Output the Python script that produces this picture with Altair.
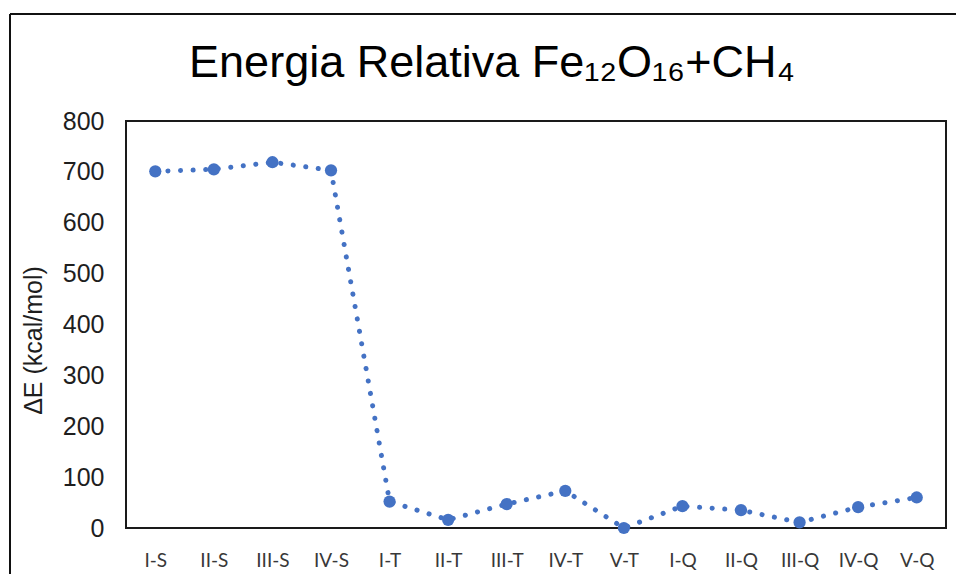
import altair as alt
import pandas as pd

categories = ["I-S", "II-S", "III-S", "IV-S", "I-T", "II-T", "III-T", "IV-T",
              "V-T", "I-Q", "II-Q", "III-Q", "IV-Q", "V-Q"]
energies = [701, 705, 719, 703, 52, 16, 47, 73, 0, 43, 35, 11, 41, 60]
y_ticks = [0, 100, 200, 300, 400, 500, 600, 700, 800]
title_text = "Energia Relativa Fe₁₂O₁₆+CH₄"

df = pd.DataFrame({"cat": categories, "dE": energies})

BLUE = "#4472C4"

x_enc = alt.X("cat:N", sort=categories, title=None,
              scale=alt.Scale(type="point", padding=0.5),
              axis=alt.Axis(ticks=False, domain=False, labelAngle=0,
                            labelFont="Lato", labelFontSize=19,
                            labelColor="#383838", labelPadding=23))
y_enc = alt.Y("dE:Q", title="ΔE (kcal/mol)",
              scale=alt.Scale(domain=[0, 800], nice=False),
              axis=alt.Axis(values=y_ticks, grid=False, ticks=False, domain=False,
                            labelFont="Liberation Sans", labelFontSize=25,
                            labelColor="#1e1e1e", labelPadding=22,
                            titleFont="Liberation Sans", titleFontSize=25,
                            titleFontWeight="normal", titleColor="#1e1e1e",
                            titleAngle=270, titleX=-93, titleY=219,
                            titleAlign="center", titleBaseline="middle"))

base = alt.Chart(df)
line = base.mark_line(color=BLUE, strokeWidth=5, strokeDash=[0.1, 12.5],
                      strokeCap="round").encode(x=x_enc, y=y_enc)
pts = base.mark_circle(color=BLUE, size=150, opacity=1).encode(x=x_enc, y=y_enc)

one_df = pd.DataFrame({"t": [title_text]})
frame_left = alt.Chart(one_df).mark_rule(color="#111111", strokeWidth=2).encode(
    x=alt.value(-116), y=alt.value(-107), y2=alt.value(600))
frame_top = alt.Chart(one_df).mark_rule(color="#111111", strokeWidth=2).encode(
    x=alt.value(-116), x2=alt.value(900), y=alt.value(-107))
title = alt.Chart(one_df).mark_text(font="Liberation Sans", fontSize=45,
                                    color="#000000", align="center",
                                    baseline="alphabetic").encode(
    text="t:N", x=alt.value(366), y=alt.value(-44))

chart = alt.layer(frame_left, frame_top, title, line, pts).properties(
    width=820, height=407,
    autosize=alt.AutoSizeParams(type="none"),
    padding={"left": 118, "top": 113, "right": 10, "bottom": 46},
    background="white",
).configure_view(stroke="#1a1a1a", strokeWidth=2)

chart.save("out.html", embed_options={"renderer": "svg", "actions": False})
